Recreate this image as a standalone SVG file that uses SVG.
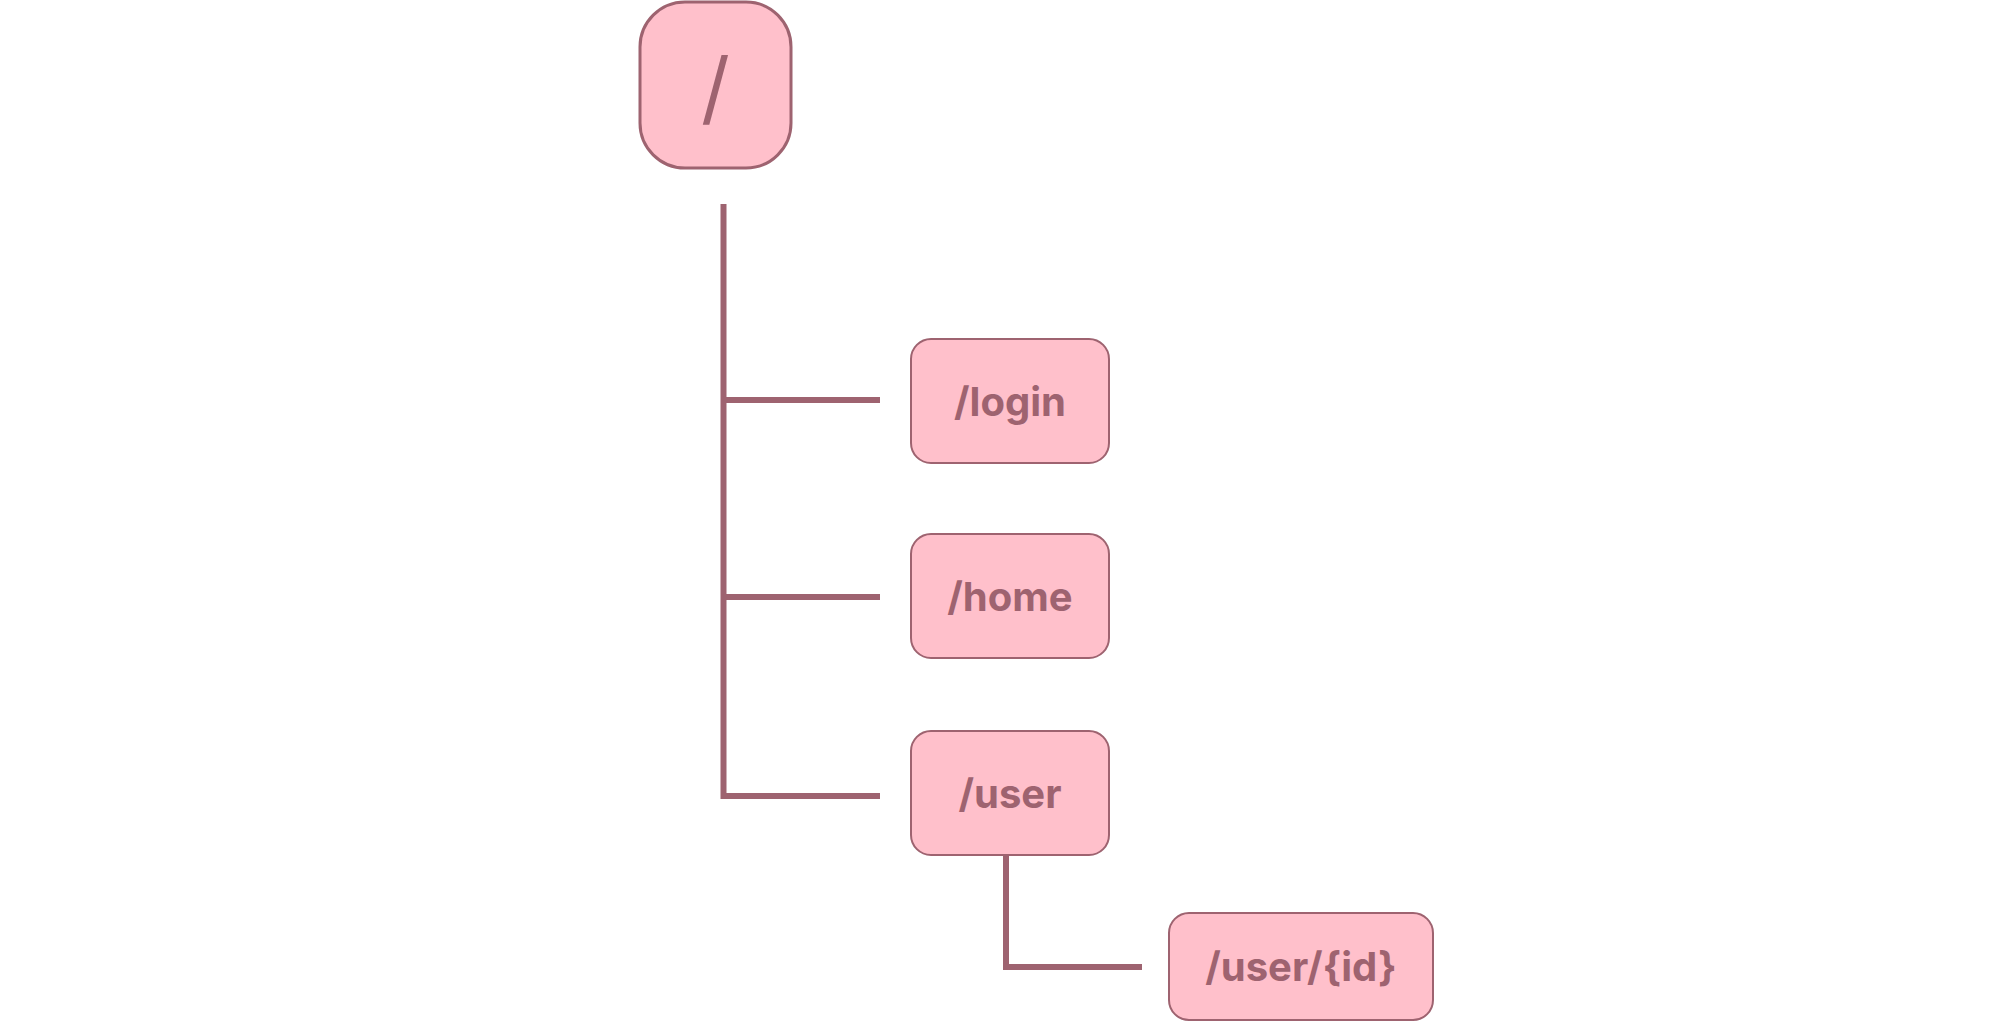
<svg xmlns="http://www.w3.org/2000/svg" width="2010" height="1022" viewBox="0 0 2010 1022">
<style>
.box{fill:#FFC0CB;stroke:#9E6370;stroke-width:2}
.lbl{font-family:Inter,"Liberation Sans",sans-serif;font-weight:700;font-size:40px;fill:#9E6370;text-anchor:middle}
.conn{fill:none;stroke:#9E6370;stroke-width:6}
</style>
<rect width="2010" height="1022" fill="#FFFFFF"/>
<g id="connectors">
<path class="conn" d="M723.5,204 V796 H880"/>
<path class="conn" d="M723.5,400 H880"/>
<path class="conn" d="M723.5,597 H880"/>
<path class="conn" d="M1006,855 V967 H1142"/>
</g>
<g id="node-root">
<rect class="box" x="640" y="2" width="151" height="166" rx="45" style="stroke-width:3"/>
<text x="715.5" y="116" style="font-family:Inter,'Liberation Sans',sans-serif;font-weight:400;font-size:80px;fill:#9E6370;text-anchor:middle">/</text>
</g>
<g id="node-login">
<rect class="box" x="911" y="339" width="198" height="124" rx="20"/>
<text class="lbl" x="1010" y="416">/login</text>
</g>
<g id="node-home">
<rect class="box" x="911" y="534" width="198" height="124" rx="20"/>
<text class="lbl" x="1010" y="611">/home</text>
</g>
<g id="node-user">
<rect class="box" x="911" y="731" width="198" height="124" rx="20"/>
<text class="lbl" x="1010" y="808">/user</text>
</g>
<g id="node-userid">
<rect class="box" x="1169" y="913" width="264" height="107" rx="20"/>
<text class="lbl" x="1301" y="981">/user/{id}</text>
</g>
</svg>
